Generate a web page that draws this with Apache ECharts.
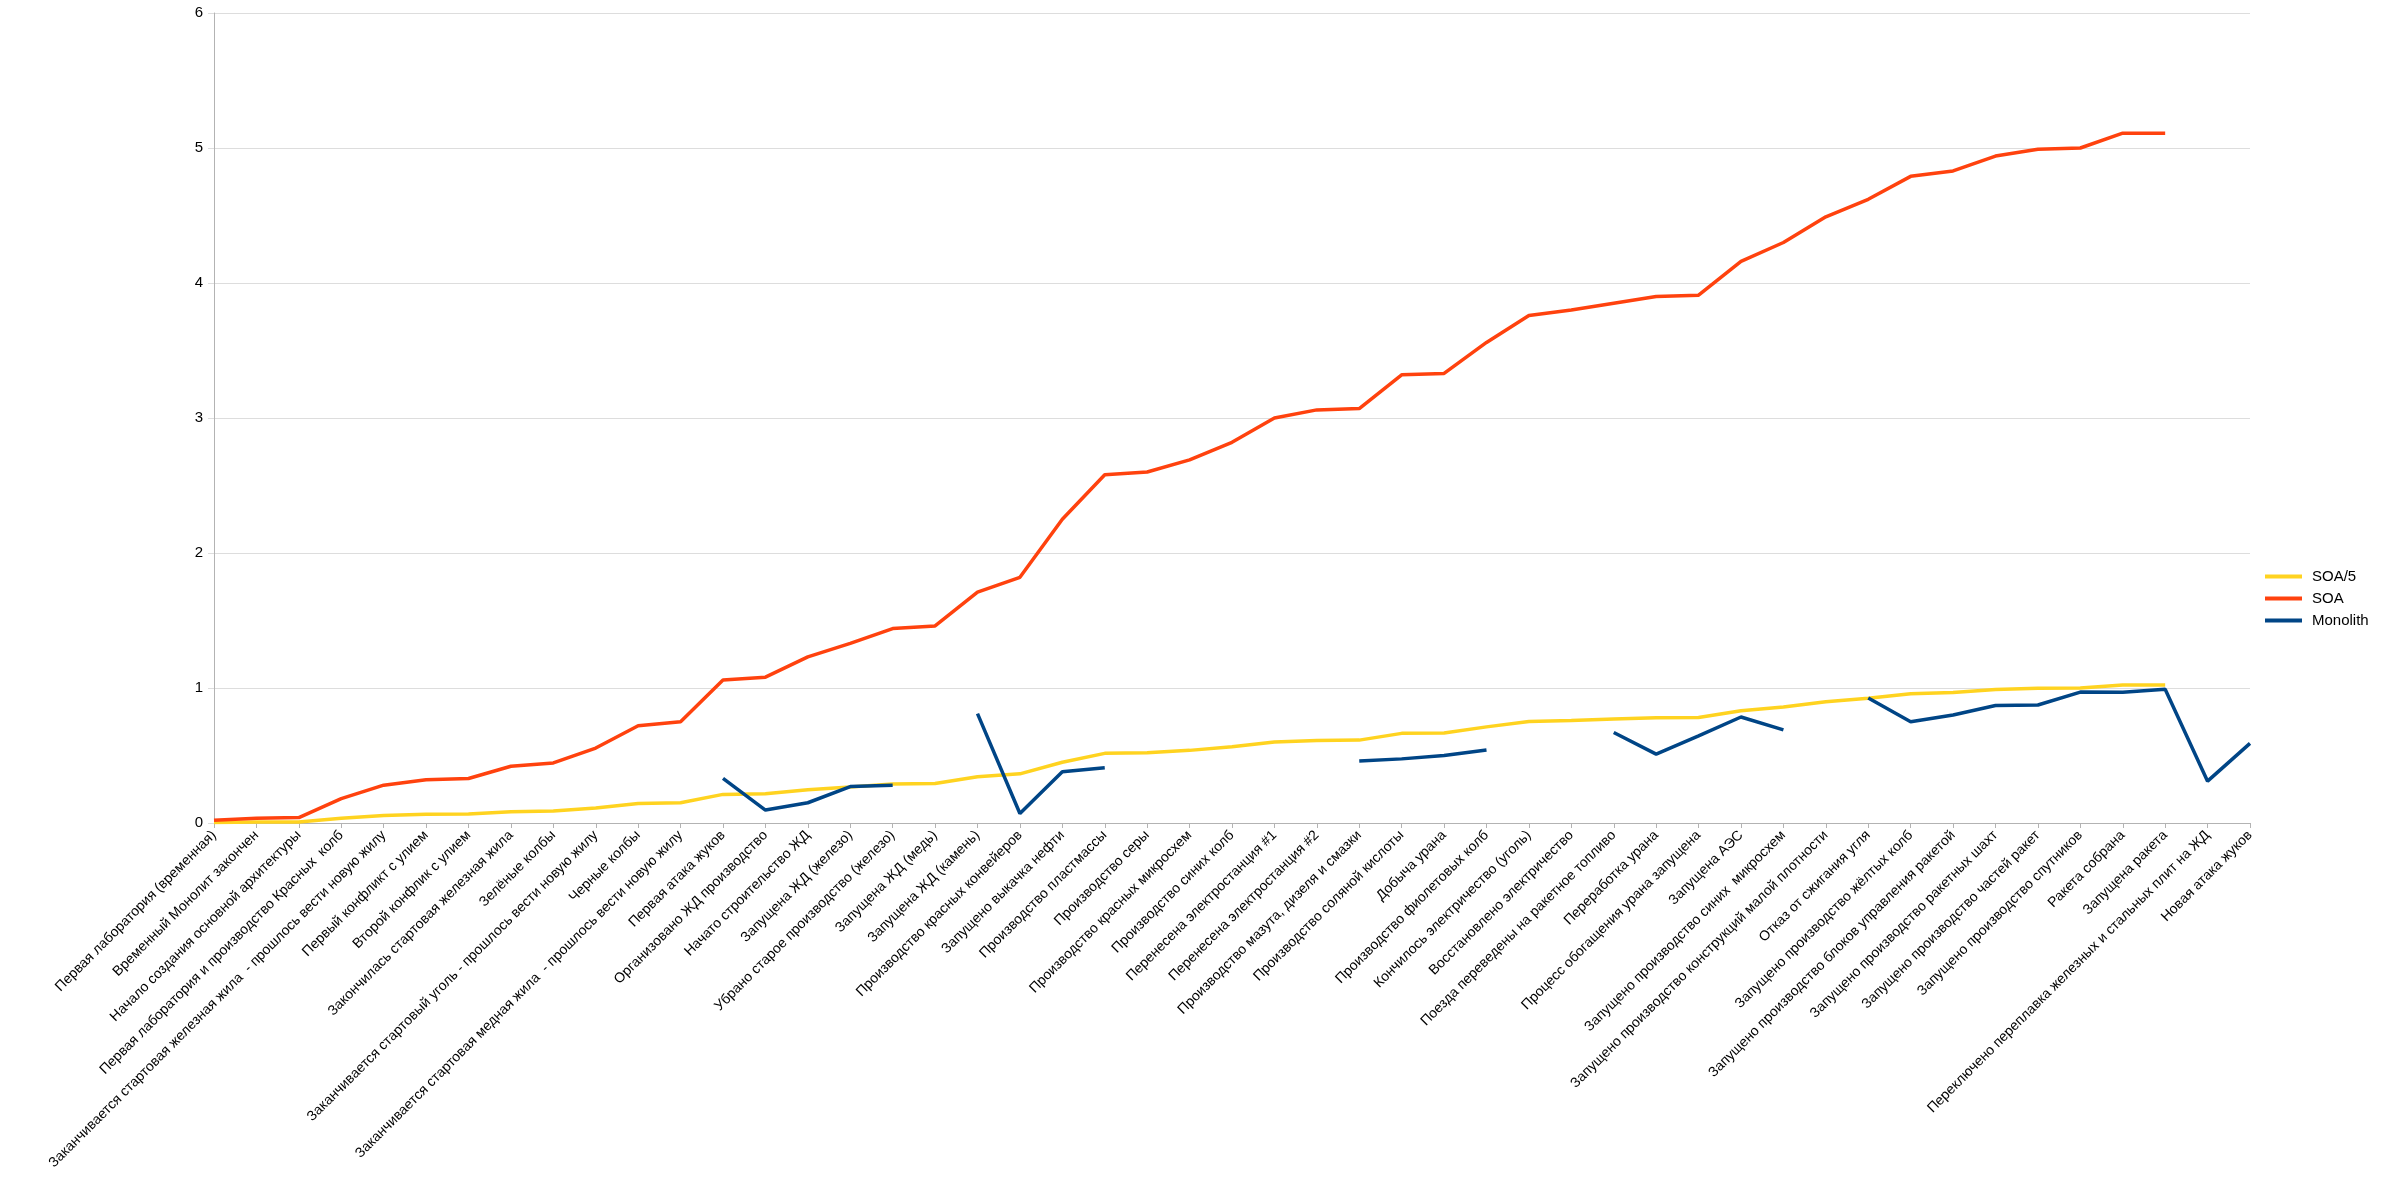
<!doctype html>
<html lang="ru">
<head>
    <meta charset="utf-8">
    <title>SOA / Monolith</title>
    <script src="https://cdn.jsdelivr.net/npm/echarts@6/dist/echarts.min.js"></script>
    <style>
        html, body { margin: 0; padding: 0; background: #fff; }
        #main { width: 2405px; height: 1187px; }
    </style>
</head>
<body>
    <div id="main"></div>
    <script type="text/javascript">
        var categories = [
            "Первая лаборатория (временная)",
            "Временный Монолит закончен",
            "Начало создания основной архитектуры",
            "Первая лаборатория и производство Красных  колб",
            "Заканчивается стартовая железная жила  - прошлось вести новую жилу",
            "Первый конфликт с улием",
            "Второй конфлик с улием",
            "Закончилась стартовая железная жила",
            "Зелёные колбы",
            "Заканчивается стартовый уголь - прошлось вести новую жилу",
            "Черные колбы",
            "Заканчивается стартовая медная жила  - прошлось вести новую жилу",
            "Первая атака жуков",
            "Организовано ЖД производство",
            "Начато строительство ЖД",
            "Запущена ЖД (железо)",
            "Убрано старое производство (железо)",
            "Запущена ЖД (медь)",
            "Запущена ЖД (камень)",
            "Производство красных конвейеров",
            "Запущено выкачка нефти",
            "Производство пластмассы",
            "Производство серы",
            "Производство красных микросхем",
            "Производство синих колб",
            "Перенесена электростанция #1",
            "Перенесена электростанция #2",
            "Производство мазута, дизеля и смазки",
            "Производство соляной кислоты",
            "Добыча урана",
            "Производство фиолетовых колб",
            "Кончилось электричество (уголь)",
            "Восстановлено электричество",
            "Поезда переведены на ракетное топливо",
            "Переработка урана",
            "Процесс обогащения урана запущена",
            "Запущена АЭС",
            "Запущено производство синих  микросхем",
            "Запущено производство конструкций малой плотности",
            "Отказ от сжигания угля",
            "Запущено производство жёлтых колб",
            "Запущено производство блоков управления ракетой",
            "Запущено производство ракетных шахт",
            "Запущено производство частей ракет",
            "Запущено производство спутников",
            "Ракета собрана",
            "Запущена ракета",
            "Переключено переплавка железных и стальных плит на ЖД",
            "Новая атака жуков"
        ];

        var soa = [
            0.02, 0.035, 0.04, 0.18, 0.28, 0.32, 0.33, 0.42, 0.445, 0.555,
            0.72, 0.75, 1.06, 1.08, 1.23, 1.33, 1.44, 1.46, 1.71, 1.82,
            2.25, 2.58, 2.60, 2.69, 2.82, 3.00, 3.06, 3.07, 3.32, 3.33,
            3.56, 3.76, 3.80, 3.85, 3.90, 3.91, 4.16, 4.30, 4.49, 4.62,
            4.79, 4.83, 4.94, 4.99, 5.00, 5.11, 5.11, null, null
        ];

        var soa5 = [
            0.004, 0.007, 0.008, 0.036, 0.056, 0.064, 0.066, 0.084, 0.089, 0.111,
            0.144, 0.15, 0.212, 0.216, 0.246, 0.266, 0.288, 0.292, 0.342, 0.364,
            0.45, 0.516, 0.52, 0.538, 0.564, 0.60, 0.612, 0.614, 0.664, 0.666,
            0.712, 0.752, 0.76, 0.77, 0.78, 0.782, 0.832, 0.86, 0.898, 0.924,
            0.958, 0.966, 0.988, 0.998, 1.0, 1.022, 1.022, null, null
        ];

        var monolith = [
            null, null, null, null, null, null, null, null, null, null,
            null, null, 0.33, 0.096, 0.15, 0.27, 0.28, null, 0.81, 0.07,
            0.38, 0.41, null, null, null, null, null, 0.46, 0.475, 0.50,
            0.54, null, null, 0.67, 0.51, 0.645, 0.785, 0.69, null, 0.926,
            0.75, 0.80, 0.87, 0.874, 0.97, 0.968, 0.99, 0.31, 0.59
        ];

        var yTicks = [0, 1, 2, 3, 4, 5, 6];

        var chart = echarts.init(document.getElementById('main'));

        function lineSeries(name, data, color) {
            return {
                name: name,
                type: 'line',
                data: data,
                symbol: 'none',
                connectNulls: false,
                lineStyle: { color: color, width: 3.5 },
                itemStyle: { color: color },
                emphasis: { disabled: true }
            };
        }

        var option = {
            backgroundColor: '#ffffff',
            animation: false,
            textStyle: { fontFamily: 'Liberation Sans, Arial, sans-serif' },
            grid: { left: 214, right: 155, top: 13, bottom: 364, containLabel: false },
            legend: {
                orient: 'vertical',
                left: 2265,
                top: 569,
                padding: 0,
                itemWidth: 37,
                itemHeight: 4,
                itemGap: 7,
                icon: 'rect',
                textStyle: { fontSize: 15, color: '#000', padding: [0, 0, 0, 5] },
                data: ['SOA/5', 'SOA', 'Monolith']
            },
            xAxis: {
                type: 'category',
                data: categories,
                boundaryGap: false,
                axisLine: { lineStyle: { color: '#b3b3b3', width: 1 } },
                axisTick: { show: true, interval: 0, length: 5, lineStyle: { color: '#b3b3b3' } },
                axisLabel: {
                    interval: 0,
                    rotate: 45,
                    fontSize: 14,
                    color: '#000',
                    margin: 10
                },
                splitLine: { show: false }
            },
            yAxis: {
                type: 'value',
                min: yTicks[0],
                max: yTicks[yTicks.length - 1],
                interval: 1,
                axisLine: { show: true, lineStyle: { color: '#b3b3b3', width: 1 } },
                axisTick: { show: true, length: 6, lineStyle: { color: '#dddddd' } },
                axisLabel: { fontSize: 15, color: '#000', margin: 11 },
                splitLine: { show: true, lineStyle: { color: '#dddddd', width: 1 } }
            },
            series: [
                lineSeries('SOA/5', soa5, '#ffd320'),
                lineSeries('SOA', soa, '#ff420e'),
                lineSeries('Monolith', monolith, '#004586')
            ]
        };

        chart.setOption(option);
    </script>
</body>
</html>
